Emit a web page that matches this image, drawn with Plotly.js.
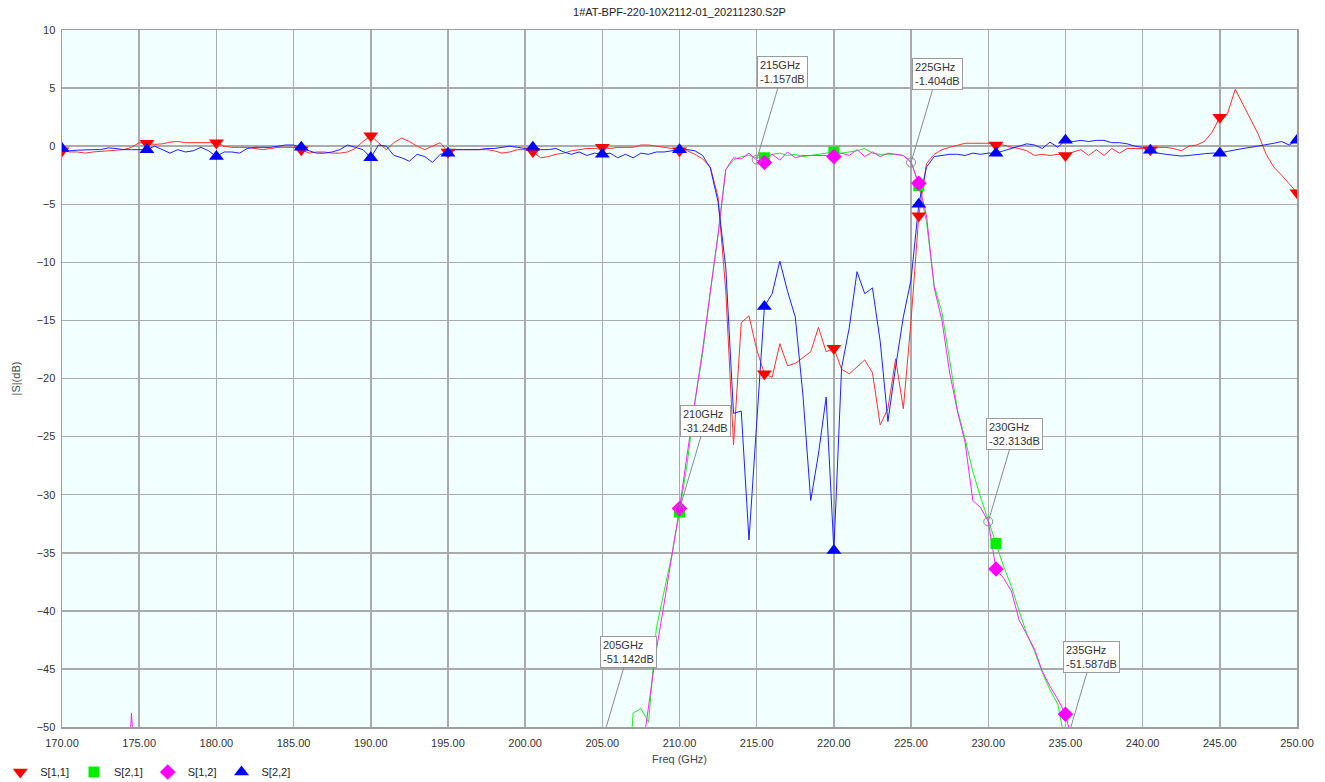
<!DOCTYPE html>
<html>
<head>
<meta charset="utf-8">
<script src="https://cdn.plot.ly/plotly-3.0.1.min.js"></script>
<style>html,body{margin:0;padding:0;background:#fff;}</style>
</head>
<body>
<div id="chart" style="width:1325px;height:782px;"></div>
<script>
// Frequency sweep (GHz)
const freq = [
170,170.5,171,171.5,172,172.5,173,173.5,174,174.5,
175,175.5,176,176.5,177,177.5,178,178.5,179,179.5,
180,180.5,181,181.5,182,182.5,183,183.5,184,184.5,
185,185.5,186,186.5,187,187.5,188,188.5,189,189.5,
190,190.5,191,191.5,192,192.5,193,193.5,194,194.5,
195,195.5,196,196.5,197,197.5,198,198.5,199,199.5,
200,200.5,201,201.5,202,202.5,203,203.5,204,204.5,
205,205.5,206,206.5,207,207.5,208,208.5,209,209.5,
210,210.5,211,211.5,212,212.5,213,213.5,214,214.5,
215,215.5,216,216.5,217,217.5,218,218.5,219,219.5,
220,220.5,221,221.5,222,222.5,223,223.5,224,224.5,
225,225.5,226,226.5,227,227.5,228,228.5,229,229.5,
230,230.5,231,231.5,232,232.5,233,233.5,234,234.5,
235,235.5,236,236.5,237,237.5,238,238.5,239,239.5,
240,240.5,241,241.5,242,242.5,243,243.5,244,244.5,
245,245.5,246,246.5,247,247.5,248,248.5,249,249.5,
250];

// S[1,1] (dB)
const s11 = [
-0.4,-0.5,-0.5,-0.6,-0.5,-0.45,-0.4,-0.35,-0.3,-0.1,
0.3,0.25,0.15,0.2,0.35,0.4,0.3,0.3,0.3,0.3,
0.3,0.0,-0.1,-0.1,-0.1,-0.2,-0.3,-0.2,-0.1,-0.1,
-0.1,-0.3,-0.6,-0.5,-0.5,-0.6,-0.6,-0.5,-0.2,0.4,
0.9,0.3,-0.3,0.3,0.7,0.4,0.0,-0.3,0.0,0.3,
-0.5,-0.3,-0.3,-0.3,-0.3,-0.3,-0.4,-0.6,-0.5,-0.3,
-0.3,-0.45,-1.0,-0.9,-0.7,-0.6,-0.4,-0.3,-0.2,-0.2,
-0.1,-0.2,-0.1,-0.1,-0.1,0.1,0.1,0.0,-0.1,-0.2,
-0.4,-0.4,-0.7,-1.1,-1.8,-4.4,-12.5,-25.7,-15.2,-14.6,
-17.5,-19.6,-19.9,-17.0,-18.9,-18.7,-18.2,-17.7,-15.6,-17.7,
-17.4,-19.2,-19.6,-19.0,-18.4,-19.5,-24.0,-22.6,-18.3,-22.6,
-15.0,-6.0,-1.5,-0.7,-0.3,-0.1,0.1,0.25,0.25,0.25,
0.25,0.1,0.1,-0.1,-0.2,-0.4,-0.8,-0.7,-0.8,-0.7,
-0.8,-0.5,-0.3,-0.8,-0.3,-0.8,-0.2,-0.6,-0.2,-0.2,
-0.2,-0.3,-0.1,-0.1,-0.2,-0.4,0.0,0.1,0.4,1.2,
2.5,2.8,4.9,3.6,2.3,1.0,-0.7,-1.8,-2.5,-3.3,
-4.0];

// S[2,1] (dB)  (null = below the chart floor)
const s21 = [
null,null,null,null,null,null,null,null,null,null,
null,null,null,null,null,null,null,null,null,null,
null,null,null,null,null,null,null,null,null,null,
null,null,null,null,null,null,null,null,null,null,
null,null,null,null,null,null,null,null,null,null,
null,null,null,null,null,null,null,null,null,null,
null,null,null,null,null,null,null,null,null,null,
null,null,null,-58,-48.8,-48.4,-49.6,-41.5,-38.3,-35.2,
-31.5,-27.3,-22.0,-17.8,-12.5,-7.6,-2.0,-1.2,-0.9,-0.8,
-1.0,-1.0,-0.7,-0.6,-0.8,-0.7,-0.9,-0.8,-0.7,-0.6,
-0.5,-0.6,-0.5,-0.4,-0.2,-0.6,-0.7,-0.7,-0.7,-0.8,
-1.3,-3.4,-6.5,-12.0,-14.3,-18.4,-22.7,-25.2,-28.0,-30.2,
-32.3,-34.2,-36.2,-37.9,-40.0,-42.0,-43.5,-45.3,-46.8,-48.0,
-51.5,null,null,null,null,null,null,null,null,null,
null,null,null,null,null,null,null,null,null,null,
null,null,null,null,null,null,null,null,null,null,
null];

// S[1,2] (dB)
const s12 = [
null,null,null,null,null,null,null,null,-60,-48.8,
-60,null,null,null,null,null,null,null,null,null,
null,null,null,null,null,null,null,null,null,null,
null,null,null,null,null,null,null,null,null,null,
null,null,null,null,null,null,null,null,null,null,
null,null,null,null,null,null,null,null,null,null,
null,null,null,null,null,null,null,null,null,null,
null,null,null,null,null,-53,-48.3,-43.4,-39.4,-35.3,
-31.2,-26.5,-22.0,-17.5,-12.5,-7.6,-2.0,-1.0,-1.1,-0.6,
-1.2,-1.4,-0.7,-1.2,-0.5,-1.0,-0.8,-0.8,-0.8,-0.8,
-0.9,-0.6,-0.8,-0.3,-0.9,-0.5,-0.9,-0.6,-0.7,-0.8,
-1.4,-3.2,-6.0,-12.2,-15.0,-19.5,-22.8,-25.5,-30.5,-31.1,
-32.3,-36.4,-37.2,-38.3,-40.8,-42.0,-43.3,-45.2,-46.5,-47.6,
-48.9,-51.5,null,null,null,null,null,null,null,null,
null,null,null,null,null,null,null,null,null,null,
null,null,null,null,null,null,null,null,null,null,
null];

// S[2,2] (dB)
const s22 = [
-0.2,-0.4,-0.35,-0.3,-0.3,-0.3,-0.15,-0.2,-0.3,-0.3,
-0.3,-0.3,0.0,-0.3,-0.6,-0.3,-0.5,-0.4,-0.1,-0.4,
-0.9,-0.5,-0.5,-0.6,-0.2,-0.1,-0.1,-0.1,0.0,0.1,
0.1,-0.1,-0.4,-0.6,-0.6,-0.5,-0.3,0.1,-0.1,-0.3,
-1.0,0.1,0.0,-0.8,-1.0,-1.3,-0.7,-0.9,-1.4,-0.7,
-0.6,-0.3,-0.3,-0.3,-0.3,-0.2,-0.2,-0.1,0.0,-0.1,
-0.2,-0.1,-0.3,-0.3,-0.2,-0.5,-0.7,-0.5,-0.8,-0.6,
-0.7,-0.6,-1.0,-0.7,-1.0,-0.6,-0.7,-0.5,-0.5,-0.4,
-0.3,-0.3,-0.4,-0.8,-1.9,-4.8,-10.5,-23.0,-22.8,-33.9,
-24.0,-13.8,-12.7,-9.9,-12.5,-14.7,-21.5,-30.5,-26.5,-21.6,
-34.8,-19.1,-15.6,-10.8,-12.7,-12.2,-16.8,-23.7,-19.0,-14.7,
-11.5,-5.0,-1.8,-0.9,-0.8,-0.7,-0.7,-0.8,-0.6,-0.7,
-0.6,-0.6,-0.4,-0.2,0.0,0.2,0.1,-0.2,0.35,-0.1,
0.5,0.4,0.5,0.4,0.5,0.5,0.3,0.3,0.2,0.0,
-0.1,-0.35,-0.6,-0.7,-0.8,-0.85,-0.8,-0.7,-0.65,-0.6,
-0.6,-0.45,-0.3,-0.2,-0.1,0.0,0.1,0.25,0.4,0.1,
0.5];

// Frequencies where the trace symbols are drawn
const markFreq = [170,175.5,180,185.5,190,195,200.5,205,210,215.5,220,225.5,230.5,235,240.5,245,250];

// Marker read-outs
const readFreq = [215, 225, 210, 230, 205, 235];
const readVal  = [-1.157, -1.404, -31.24, -32.313, -51.142, -51.587];

const seriesNames = ['S[1,1]','S[2,1]','S[1,2]','S[2,2]'];
const seriesData = [s11, s21, s12, s22];
const lineColors = ['#FF3030','#22EE22','#FF22FF','#2020FF'];
const markColors = ['#FF0000','#00EE00','#FF00FF','#0000FF'];
const markSymbols = ['triangle-down','square','diamond','triangle-up'];
const markSizes = [13, 11, 12, 13];

const traces = [];
seriesData.forEach((d, i) => {
  traces.push({
    x: freq, y: d, type: 'scatter', mode: 'lines',
    line: {color: lineColors[i], width: 1},
    showlegend: false, hoverinfo: 'skip'
  });
});
seriesData.forEach((d, i) => {
  const mx = [], my = [];
  markFreq.forEach(f => {
    const k = freq.indexOf(f);
    if (k >= 0 && d[k] !== null) { mx.push(f); my.push(d[k]); }
  });
  traces.push({
    x: mx, y: my, type: 'scatter', mode: 'markers', name: seriesNames[i],
    marker: {symbol: markSymbols[i], color: markColors[i], size: markSizes[i], line: {width: 0}}
  });
});
traces.push({
  x: readFreq, y: readVal, type: 'scatter', mode: 'markers', showlegend: false,
  marker: {symbol: 'circle-open', color: '#888888', size: 9, line: {width: 1}}
});

// read-out labels
const yMin = -50, yMax = 10, xMin = 170, xMax = 250;
const plotW = 1325 - 62 - 28, plotH = 782 - 30 - 55;
const pxPerDb = plotH / (yMax - yMin), pxPerGHz = plotW / (xMax - xMin);
const offX = 26, offY = -88;
const annotations = readFreq.map((f, i) => {
  const v = readVal[i];
  let x = f, y = v, ax = offX, ay = offY;
  if (v < yMin) {
    const r = ((yMin - v) * pxPerDb) / (-offY);
    x = f + offX * r / pxPerGHz; y = yMin;
    ax = offX * (1 - r); ay = offY * (1 - r);
  }
  return {
    x: x, y: y, xref: 'x', yref: 'y', ax: ax, ay: ay,
    text: f + 'GHz<br>' + v + 'dB', align: 'left',
    showarrow: true, arrowhead: 0, arrowwidth: 1, arrowcolor: '#8a8a8a', standoff: 0,
    bgcolor: '#ffffff', bordercolor: '#9a9a9a', borderwidth: 1, borderpad: 2,
    font: {size: 11, color: '#333333'}
  };
});

const axisCommon = {
  showgrid: true, gridcolor: '#ABABAB', gridwidth: 1.5, automargin: false,
  zeroline: false, showline: true, linecolor: '#9E9E9E', linewidth: 1.5, mirror: true,
  tickfont: {size: 11, color: '#333'}
};

const layout = {
  width: 1325, height: 782,
  margin: {l: 62, r: 28, t: 30, b: 55, pad: 0, autoexpand: false},
  paper_bgcolor: '#ffffff', plot_bgcolor: '#F2FFFF',
  font: {family: '"Liberation Sans", Arial, sans-serif', size: 11, color: '#333'},
  title: {text: '1#AT-BPF-220-10X2112-01_20211230.S2P', x: 0.5, xref: 'paper', xanchor: 'center',
          y: 1 - 12/782, yref: 'container', yanchor: 'middle', font: {size: 11, color: '#222'}},
  xaxis: Object.assign({}, axisCommon, {
    range: [xMin, xMax], tick0: 170, dtick: 5, tickformat: '.2f',
    ticks: 'outside', ticklen: 5, tickcolor: 'rgba(0,0,0,0)',
    title: {text: 'Freq (GHz)', standoff: 7, font: {size: 11, color: '#444'}}
  }),
  yaxis: Object.assign({}, axisCommon, {
    range: [yMin, yMax], tick0: 0, dtick: 5,
    ticks: 'outside', ticklen: 3, tickcolor: 'rgba(0,0,0,0)',
    title: {text: '|S|(dB)', standoff: 14, font: {size: 11, color: '#444'}}
  }),
  legend: {orientation: 'h', x: -0.05, xanchor: 'left', y: -0.0646, yanchor: 'middle',
           font: {size: 11, color: '#222'}, bgcolor: 'rgba(0,0,0,0)', itemwidth: 30, tracegroupgap: 0},
  annotations: annotations,
  showlegend: true
};

Plotly.newPlot('chart', traces, layout, {displayModeBar: false, staticPlot: true});
</script>
</body>
</html>
